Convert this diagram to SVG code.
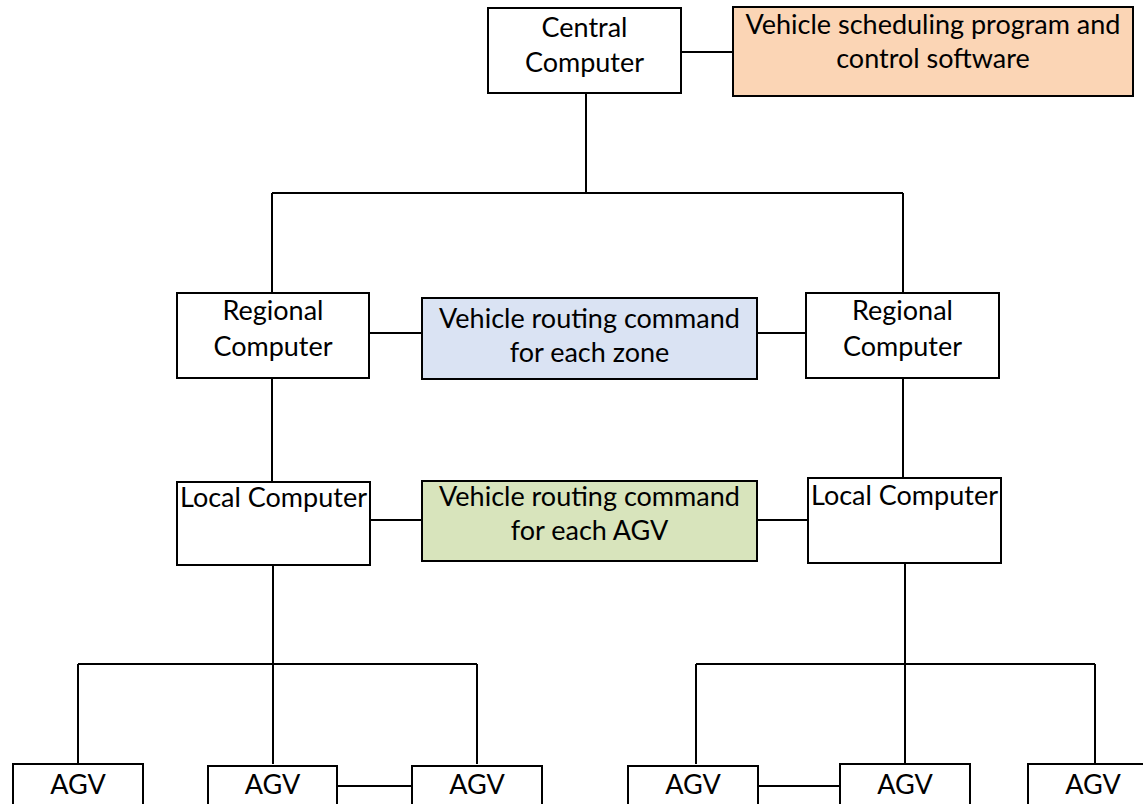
<svg xmlns="http://www.w3.org/2000/svg" width="1143" height="804" viewBox="0 0 1143 804">
<style>
.box{fill:#ffffff;stroke:#000000;stroke-width:2}
.t{font-family:Lato,"Liberation Sans",sans-serif;font-size:27px;fill:#000000;text-anchor:middle}
.c{stroke:#000000;stroke-width:2;fill:none}
</style>
<rect width="1143" height="804" fill="#ffffff"/>
<g id="connectors">
<line class="c" x1="681" y1="52" x2="733" y2="52"/>
<line class="c" x1="586" y1="93" x2="586" y2="193"/>
<line class="c" x1="272" y1="193" x2="903" y2="193"/>
<line class="c" x1="272" y1="193" x2="272" y2="293"/>
<line class="c" x1="903" y1="193" x2="903" y2="293"/>
<line class="c" x1="369" y1="333" x2="422" y2="333"/>
<line class="c" x1="757" y1="333" x2="806" y2="333"/>
<line class="c" x1="272" y1="378" x2="272" y2="482"/>
<line class="c" x1="903" y1="378" x2="903" y2="478"/>
<line class="c" x1="370" y1="520" x2="422" y2="520"/>
<line class="c" x1="757" y1="520" x2="808" y2="520"/>
<line class="c" x1="273" y1="565" x2="273" y2="664"/>
<line class="c" x1="78" y1="664" x2="477" y2="664"/>
<line class="c" x1="78" y1="664" x2="78" y2="764"/>
<line class="c" x1="273" y1="664" x2="273" y2="764"/>
<line class="c" x1="477" y1="664" x2="477" y2="764"/>
<line class="c" x1="905" y1="563" x2="905" y2="664"/>
<line class="c" x1="696" y1="664" x2="1095" y2="664"/>
<line class="c" x1="696" y1="664" x2="696" y2="764"/>
<line class="c" x1="905" y1="664" x2="905" y2="764"/>
<line class="c" x1="1095" y1="664" x2="1095" y2="764"/>
<line class="c" x1="337" y1="786" x2="412" y2="786"/>
<line class="c" x1="758" y1="786" x2="840" y2="786"/>
</g>
<g id="central"><rect class="box" x="488" y="8" width="193" height="85"/><text class="t" x="584.5" y="37">Central</text><text class="t" x="584.5" y="72">Computer</text></g>
<g id="scheduling"><rect class="box" style="fill:#fbd5b5" x="733" y="7" width="400" height="89"/><text class="t" x="933" y="34">Vehicle scheduling program and</text><text class="t" x="933" y="68">control software</text></g>
<g id="regional-left"><rect class="box" x="177" y="293" width="192" height="85"/><text class="t" x="273" y="320">Regional</text><text class="t" x="273" y="356">Computer</text></g>
<g id="regional-right"><rect class="box" x="806" y="293" width="193" height="85"/><text class="t" x="902.5" y="320">Regional</text><text class="t" x="902.5" y="356">Computer</text></g>
<g id="zone-command"><rect class="box" style="fill:#dae3f3" x="422" y="298" width="335" height="81"/><text class="t" x="589.5" y="328">Vehicle routing command</text><text class="t" x="589.5" y="362">for each zone</text></g>
<g id="local-left"><rect class="box" x="177" y="482" width="193" height="83"/><text class="t" x="273.5" y="507">Local Computer</text></g>
<g id="local-right"><rect class="box" x="808" y="478" width="193" height="85"/><text class="t" x="904.5" y="505">Local Computer</text></g>
<g id="agv-command"><rect class="box" style="fill:#d8e4bc" x="422" y="481" width="335" height="80"/><text class="t" x="589.5" y="506">Vehicle routing command</text><text class="t" x="589.5" y="540">for each AGV</text></g>
<g id="agv1"><rect class="box" x="13" y="764" width="130" height="50"/><text class="t" x="78" y="794">AGV</text></g>
<g id="agv2"><rect class="box" x="208" y="766" width="129" height="50"/><text class="t" x="272.5" y="794">AGV</text></g>
<g id="agv3"><rect class="box" x="412" y="766" width="130" height="50"/><text class="t" x="477" y="794">AGV</text></g>
<g id="agv4"><rect class="box" x="628" y="766" width="130" height="50"/><text class="t" x="693" y="794">AGV</text></g>
<g id="agv5"><rect class="box" x="840" y="764" width="130" height="50"/><text class="t" x="905" y="794">AGV</text></g>
<g id="agv6"><rect class="box" x="1028" y="764" width="130" height="50"/><text class="t" x="1093" y="794">AGV</text></g>
</svg>
